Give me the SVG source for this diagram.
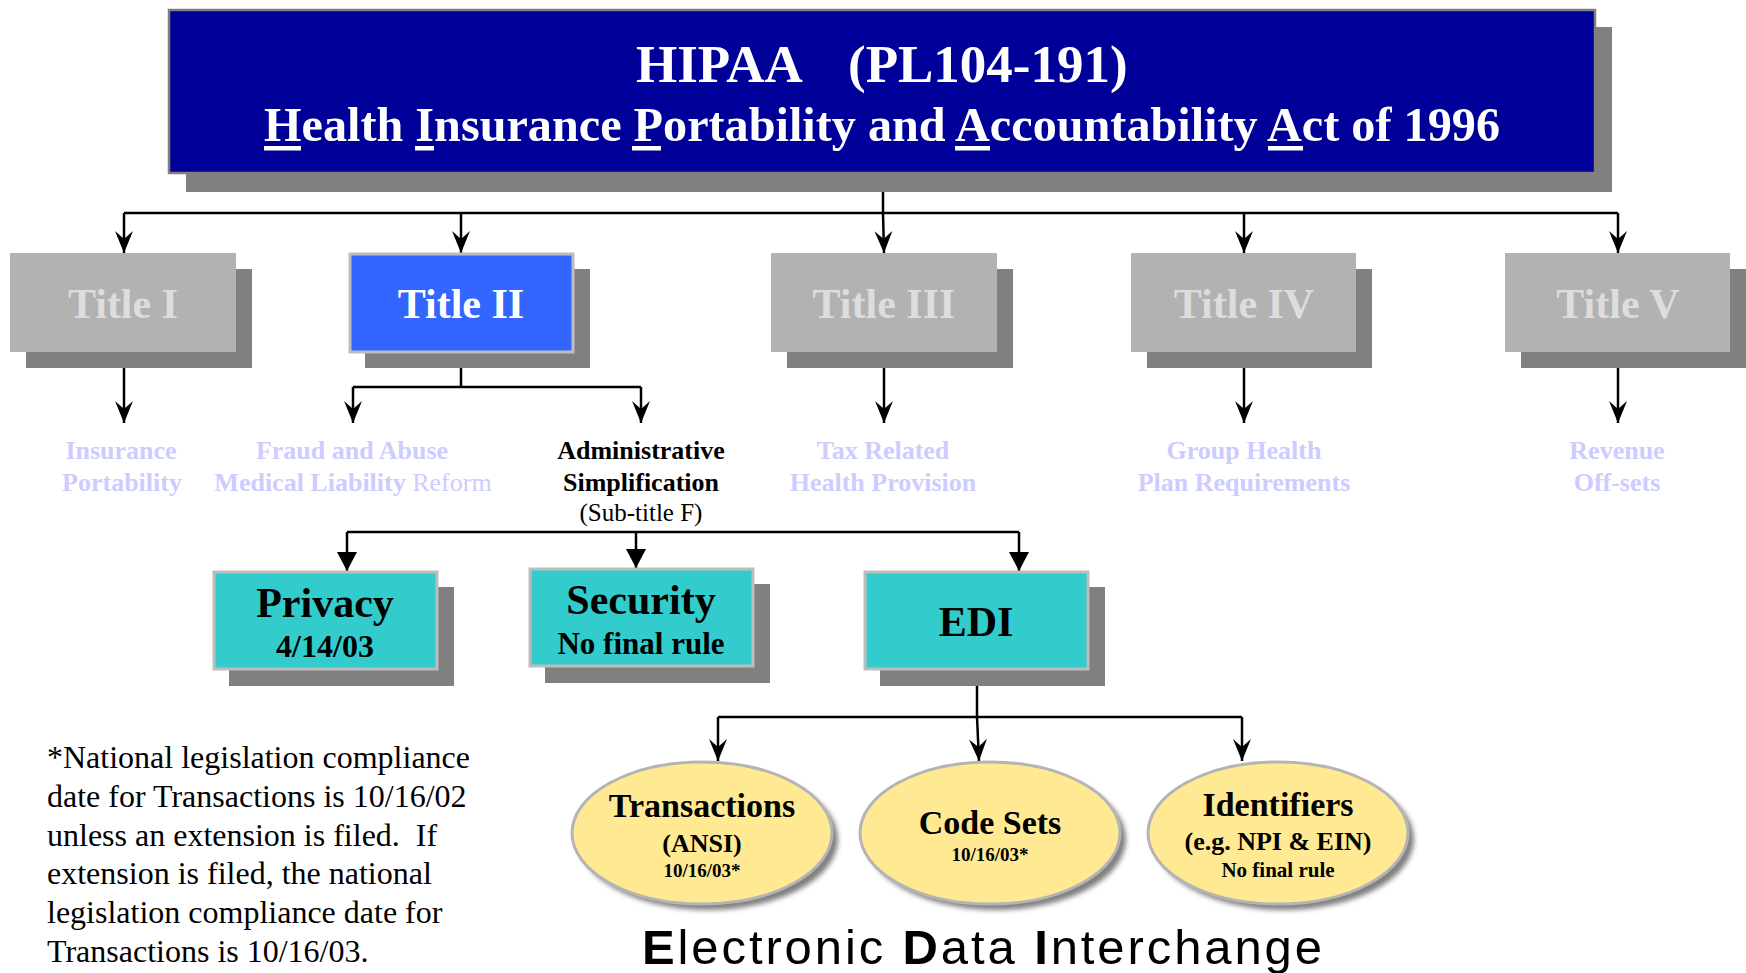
<svg xmlns="http://www.w3.org/2000/svg" width="1746" height="973" viewBox="0 0 1746 973">
<style>
.serif{font-family:"Liberation Serif","Times New Roman",serif}
.b{font-weight:bold}
.shadow{fill:#808080}
.title{fill:#B2B2B2}
.ttxt{font-family:"Liberation Serif","Times New Roman",serif;font-weight:bold;font-size:42px;fill:#DDDDDD;text-anchor:middle}
.lbl{font-family:"Liberation Serif","Times New Roman",serif;font-weight:bold;font-size:26px;fill:#CCCCFF;text-anchor:middle}
.teal{fill:#33CCCC;stroke:#BDBDBD;stroke-width:3}
.ell{fill:#FFE993;stroke:#B4B4B4;stroke-width:3}
.etxt{font-family:"Liberation Serif","Times New Roman",serif;font-weight:bold;fill:#000;text-anchor:middle}
.conn{fill:none;stroke:#000;stroke-width:2.5}
.foot{font-family:"Liberation Serif","Times New Roman",serif;font-size:32px;fill:#000}
</style>
<defs>
<marker id="stealth" viewBox="0 0 22 18" refX="22" refY="9" markerWidth="22" markerHeight="18" markerUnits="userSpaceOnUse" orient="auto">
<path d="M22,9 L0,0 L8,9 L0,18 Z" fill="#000"/>
</marker>
<marker id="tri" viewBox="0 0 19 20" refX="19" refY="10" markerWidth="19" markerHeight="20" markerUnits="userSpaceOnUse" orient="auto">
<path d="M19,10 L0,0 L0,20 Z" fill="#000"/>
</marker>
<filter id="blur" x="-10%" y="-10%" width="120%" height="120%">
<feGaussianBlur stdDeviation="2.5"/>
</filter>
</defs>

<g id="connectors">
<path class="conn" d="M883,174 L883,213"/>
<path class="conn" d="M124,213 L1618,213"/>
<path class="conn" d="M124,213 L124,253" marker-end="url(#stealth)"/>
<path class="conn" d="M461,213 L461,253" marker-end="url(#stealth)"/>
<path class="conn" d="M883,213 L884,253" marker-end="url(#stealth)"/>
<path class="conn" d="M1244,213 L1244,253" marker-end="url(#stealth)"/>
<path class="conn" d="M1618,213 L1618,253" marker-end="url(#stealth)"/>
<path class="conn" d="M124,352 L124,423" marker-end="url(#stealth)"/>
<path class="conn" d="M461,352 L461,387 M353,387 L641,387"/>
<path class="conn" d="M353,387 L353,423" marker-end="url(#stealth)"/>
<path class="conn" d="M641,387 L641,423" marker-end="url(#stealth)"/>
<path class="conn" d="M884,352 L884,423" marker-end="url(#stealth)"/>
<path class="conn" d="M1244,352 L1244,423" marker-end="url(#stealth)"/>
<path class="conn" d="M1618,352 L1618,423" marker-end="url(#stealth)"/>
<path class="conn" d="M347,532 L1019,532"/>
<path class="conn" d="M347,532 L347,571" marker-end="url(#tri)"/>
<path class="conn" d="M636,532 L636,568" marker-end="url(#tri)"/>
<path class="conn" d="M1019,532 L1019,571" marker-end="url(#tri)"/>
<path class="conn" d="M977,670 L977,717 M718,717 L1242,717"/>
<path class="conn" d="M718,717 L718,761" marker-end="url(#stealth)"/>
<path class="conn" d="M977,717 L979,761" marker-end="url(#stealth)"/>
<path class="conn" d="M1242,717 L1242,761" marker-end="url(#stealth)"/>
</g>

<g id="hipaa">
<rect class="shadow" x="186" y="27" width="1426" height="165"/>
<rect x="169" y="10" width="1426" height="163" fill="#000099" stroke="#808080" stroke-width="2.5"/>
<text class="serif b" x="636" y="82" font-size="53" fill="#FFFFFF">HIPAA</text>
<text class="serif b" x="848" y="82" font-size="53" fill="#FFFFFF">(PL104-191)</text>
<text class="serif b" x="264" y="141" font-size="48" fill="#FFFFFF" textLength="1236" lengthAdjust="spacingAndGlyphs">Health Insurance Portability and Accountability Act of 1996</text>
<rect x="264" y="146" width="37" height="4.5" fill="#FFFFFF"/>
<rect x="415" y="146" width="19" height="4.5" fill="#FFFFFF"/>
<rect x="632" y="146" width="29" height="4.5" fill="#FFFFFF"/>
<rect x="955" y="146" width="35" height="4.5" fill="#FFFFFF"/>
<rect x="1268" y="146" width="35" height="4.5" fill="#FFFFFF"/>
</g>

<g id="title1">
<rect class="shadow" x="26" y="269" width="226" height="99"/>
<rect class="title" x="10" y="253" width="226" height="99"/>
<text class="ttxt" x="123" y="318">Title I</text>
</g>
<g id="title2">
<rect class="shadow" x="365" y="269" width="225" height="99"/>
<rect x="350" y="254" width="223" height="98" fill="#3366FF" stroke="#BDBDBD" stroke-width="3"/>
<text class="ttxt" x="461" y="318" style="fill:#FFFFFF">Title II</text>
</g>
<g id="title3">
<rect class="shadow" x="787" y="269" width="226" height="99"/>
<rect class="title" x="771" y="253" width="226" height="99"/>
<text class="ttxt" x="884" y="318">Title III</text>
</g>
<g id="title4">
<rect class="shadow" x="1147" y="269" width="225" height="99"/>
<rect class="title" x="1131" y="253" width="225" height="99"/>
<text class="ttxt" x="1244" y="318">Title IV</text>
</g>
<g id="title5">
<rect class="shadow" x="1521" y="269" width="225" height="99"/>
<rect class="title" x="1505" y="253" width="225" height="99"/>
<text class="ttxt" x="1618" y="318">Title V</text>
</g>

<g id="insurance-portability">
<text class="lbl" x="121" y="459">Insurance</text>
<text class="lbl" x="122" y="491">Portability</text>
</g>
<g id="fraud-abuse">
<text class="lbl" x="352" y="459">Fraud and Abuse</text>
<text class="lbl" x="353" y="491">Medical Liability<tspan font-weight="normal"> Reform</tspan></text>
</g>
<g id="admin-simplification">
<text class="lbl" x="641" y="459" style="fill:#000">Administrative</text>
<text class="lbl" x="641" y="491" style="fill:#000">Simplification</text>
<text class="serif" x="641" y="521" font-size="25" text-anchor="middle" fill="#000">(Sub-title F)</text>
</g>
<g id="tax-related">
<text class="lbl" x="883" y="459">Tax Related</text>
<text class="lbl" x="883" y="491">Health Provision</text>
</g>
<g id="group-health">
<text class="lbl" x="1244" y="459">Group Health</text>
<text class="lbl" x="1244" y="491">Plan Requirements</text>
</g>
<g id="revenue">
<text class="lbl" x="1617" y="459">Revenue</text>
<text class="lbl" x="1617" y="491">Off-sets</text>
</g>

<g id="privacy">
<rect class="shadow" x="229" y="587" width="225" height="99"/>
<rect class="teal" x="214" y="572" width="223" height="97"/>
<text class="etxt" x="325" y="617" font-size="42">Privacy</text>
<text class="etxt" x="325" y="657" font-size="32">4/14/03</text>
</g>
<g id="security">
<rect class="shadow" x="545" y="584" width="225" height="99"/>
<rect class="teal" x="530" y="569" width="223" height="97"/>
<text class="etxt" x="641" y="614" font-size="42">Security</text>
<text class="etxt" x="641" y="654" font-size="31">No final rule</text>
</g>
<g id="edi">
<rect class="shadow" x="880" y="587" width="225" height="99"/>
<rect class="teal" x="865" y="572" width="223" height="97"/>
<text class="etxt" x="976" y="636" font-size="42">EDI</text>
</g>

<g id="transactions">
<ellipse cx="708" cy="839" rx="130" ry="71" fill="#808080" filter="url(#blur)"/>
<ellipse class="ell" cx="702" cy="833" rx="130" ry="71"/>
<text class="etxt" x="702" y="817" font-size="34">Transactions</text>
<text class="etxt" x="702" y="852" font-size="26">(ANSI)</text>
<text class="etxt" x="702" y="877" font-size="19">10/16/03*</text>
</g>
<g id="code-sets">
<ellipse cx="996" cy="839" rx="130" ry="71" fill="#808080" filter="url(#blur)"/>
<ellipse class="ell" cx="990" cy="833" rx="130" ry="71"/>
<text class="etxt" x="990" y="834" font-size="34">Code Sets</text>
<text class="etxt" x="990" y="861" font-size="19">10/16/03*</text>
</g>
<g id="identifiers">
<ellipse cx="1284" cy="839" rx="130" ry="71" fill="#808080" filter="url(#blur)"/>
<ellipse class="ell" cx="1278" cy="833" rx="130" ry="71"/>
<text class="etxt" x="1278" y="816" font-size="34">Identifiers</text>
<text class="etxt" x="1278" y="850" font-size="26">(e.g. NPI &amp; EIN)</text>
<text class="etxt" x="1278" y="877" font-size="21">No final rule</text>
</g>

<g id="footnote">
<text class="foot" x="47" y="768">*National legislation compliance</text>
<text class="foot" x="47" y="807">date for Transactions is 10/16/02</text>
<text class="foot" x="47" y="846" xml:space="preserve" style="white-space:pre">unless an extension is filed.  If</text>
<text class="foot" x="47" y="884">extension is filed, the national</text>
<text class="foot" x="47" y="923">legislation compliance date for</text>
<text class="foot" x="47" y="962">Transactions is 10/16/03.</text>
</g>

<g id="edi-caption">
<text x="642" y="964" font-family="Liberation Sans, Arial, sans-serif" font-size="49" fill="#000" textLength="680" lengthAdjust="spacing"><tspan font-weight="bold">E</tspan>lectronic <tspan font-weight="bold">D</tspan>ata <tspan font-weight="bold">I</tspan>nterchange</text>
</g>
</svg>
